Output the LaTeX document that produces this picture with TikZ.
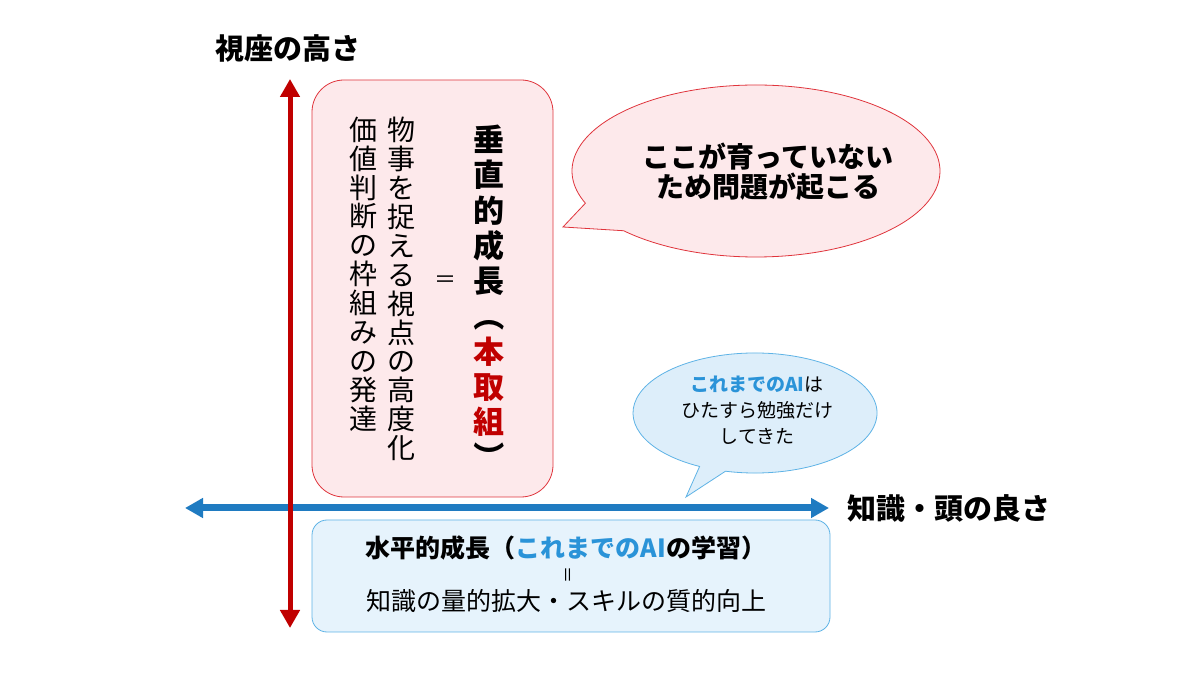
\documentclass[tikz,border=0pt]{standalone}
\usepackage{fontspec}
\setmainfont{Noto Sans CJK JP}
\usepackage{xcolor}
\usepackage{graphicx}
\usetikzlibrary{arrows.meta}
\definecolor{axisred}{HTML}{C00000}
\definecolor{axisblue}{HTML}{1F7BC1}
\definecolor{aiblue}{HTML}{2A93D8}
\definecolor{pinkfill}{HTML}{FDE9EB}
\definecolor{pinkline}{HTML}{E0343C}
\definecolor{bluefill}{HTML}{E6F3FC}
\definecolor{blueline}{HTML}{5EB3E6}
\definecolor{callfill}{HTML}{DDEEFA}
\newcommand{\vparen}[1]{\rotatebox[origin=c]{-90}{#1}}
\tikzset{
  axislabel/.style = {font=\fontsize{29}{32}\selectfont\bfseries, inner sep=0pt},% 軸ラベル
  vcol/.style = {align=center, inner sep=0pt,
    font=\fontsize{28}{28.9}\selectfont},% 縦書きの列
  vcolbold/.style = {vcol, font=\fontsize{31}{35.3}\selectfont\bfseries},% 縦書き，太字
  redbox/.style = {draw=pinkline, fill=pinkfill, rounded corners=32pt,
    line width=0.8pt},% 垂直的成長の箱
  bluebox/.style = {draw=blueline, fill=bluefill, rounded corners=15pt,
    line width=0.8pt},% 水平的成長の箱
  bubble/.style = {draw=pinkline, fill=pinkfill, line width=0.8pt},% 吹き出し，赤
  callout/.style = {draw=blueline, fill=callfill, line width=0.8pt}% 吹き出し，青
}

\begin{document}
\begin{tikzpicture}[x=1pt,y=1pt,>={Triangle[length=18pt,width=19pt]}]
\useasboundingbox[fill=white] (0,0) rectangle (1200,675);

% 箱
\node [redbox, minimum width=241pt, minimum height=417pt] (vbox) at (432.5,386.5) {};
\node [bluebox, minimum width=518pt, minimum height=112pt] (hbox) at (571,99) {};

% 軸
\coordinate (xleft) at (185,167);
\coordinate (xright) at (829,167);
\coordinate (ytop) at (290,596);
\coordinate (ybot) at (290,47);
\draw [<->, axisblue, line width=7pt] (xleft) -- (xright);
\draw [<->, axisred, line width=5pt] (ybot) -- (ytop);
\node [axislabel] (ylabel) at (288,627) {視座の高さ};
\node [axislabel, anchor=west] (xlabel) at (847,167) {知識・頭の良さ};

% 縦書き
\node [vcolbold] (vtitle) at (489,376) {垂\\直\\的\\成\\長\\\vparen{（}\\
  \textcolor{axisred}{本}\\\textcolor{axisred}{取}\\\textcolor{axisred}{組}\\\vparen{）}};
\node [vcol, font=\fontsize{22}{24}\selectfont] (veq) at (445,393) {＝};
\node [vcol] (vcola) at (401,386) {物\\事\\を\\捉\\え\\る\\視\\点\\の\\高\\度\\化};
\node [vcol] (vcolb) at (363,401) {価\\値\\判\\断\\の\\枠\\組\\み\\の\\発\\達};

% 吹き出し
\coordinate (sc) at (756,504);
\coordinate (stip) at (563,448);
\path [bubble] (stip) -- ([shift={(224:184 and 86)}]sc)
  arc [start angle=224, end angle=562, x radius=184, y radius=86] -- cycle;
\node [align=center, font=\fontsize{28}{30}\selectfont\bfseries] (stext) at (768,503)
  {ここが育っていない\\ため問題が起こる};

\coordinate (cc) at (755,262);
\coordinate (ctip) at (686,178);
\path [callout] (ctip) -- ([shift={(256:122 and 60)}]cc)
  arc [start angle=256, end angle=603, x radius=122, y radius=60] -- cycle;
\node [align=center, font=\fontsize{19}{26}\selectfont] (ctext) at (757,265)
  {\textcolor{aiblue}{\bfseries これまでのAI}は\\ひたすら勉強だけ\\してきた};

% 水平的成長
\node [font=\fontsize{25}{28}\selectfont\bfseries] (htitle) at (566,127)
  {水平的成長（\textcolor{aiblue}{これまでのAI}の学習）};
\node [font=\fontsize{17}{20}\selectfont] (heq) at (570,100) {\rotatebox{90}{＝}};
\node [font=\fontsize{25}{30}\selectfont] (hsub) at (566,74)
  {知識の量的拡大・スキルの質的向上};
\end{tikzpicture}
\end{document}
